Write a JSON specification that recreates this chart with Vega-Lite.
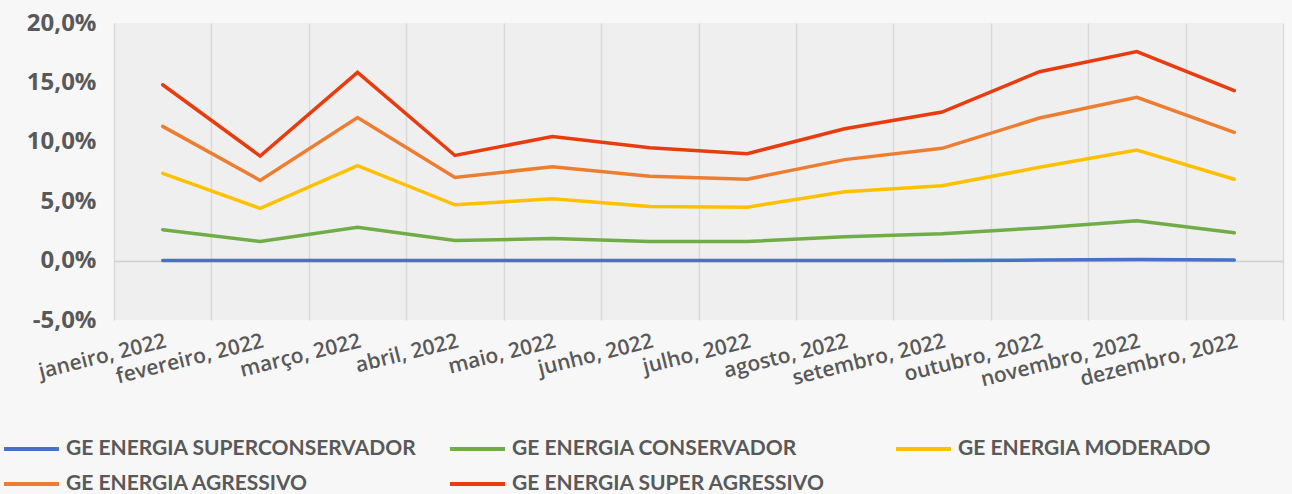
{
  "$schema": "https://vega.github.io/schema/vega-lite/v6.json",
  "width": 1169,
  "height": 297,
  "autosize": {"type": "none"},
  "padding": {"left": 114, "top": 23, "right": 9, "bottom": 174},
  "background": "#f7f7f7",
  "data": {
    "values": [
      {"month": "janeiro, 2022", "series": "GE ENERGIA SUPERCONSERVADOR", "value": 0.0},
      {"month": "fevereiro, 2022", "series": "GE ENERGIA SUPERCONSERVADOR", "value": 0.0},
      {"month": "março, 2022", "series": "GE ENERGIA SUPERCONSERVADOR", "value": 0.0},
      {"month": "abril, 2022", "series": "GE ENERGIA SUPERCONSERVADOR", "value": 0.0},
      {"month": "maio, 2022", "series": "GE ENERGIA SUPERCONSERVADOR", "value": 0.0},
      {"month": "junho, 2022", "series": "GE ENERGIA SUPERCONSERVADOR", "value": 0.0},
      {"month": "julho, 2022", "series": "GE ENERGIA SUPERCONSERVADOR", "value": 0.0},
      {"month": "agosto, 2022", "series": "GE ENERGIA SUPERCONSERVADOR", "value": 0.0},
      {"month": "setembro, 2022", "series": "GE ENERGIA SUPERCONSERVADOR", "value": 0.0},
      {"month": "outubro, 2022", "series": "GE ENERGIA SUPERCONSERVADOR", "value": 0.0005},
      {"month": "novembro, 2022", "series": "GE ENERGIA SUPERCONSERVADOR", "value": 0.001},
      {"month": "dezembro, 2022", "series": "GE ENERGIA SUPERCONSERVADOR", "value": 0.0005},

      {"month": "janeiro, 2022", "series": "GE ENERGIA CONSERVADOR", "value": 0.026},
      {"month": "fevereiro, 2022", "series": "GE ENERGIA CONSERVADOR", "value": 0.016},
      {"month": "março, 2022", "series": "GE ENERGIA CONSERVADOR", "value": 0.028},
      {"month": "abril, 2022", "series": "GE ENERGIA CONSERVADOR", "value": 0.017},
      {"month": "maio, 2022", "series": "GE ENERGIA CONSERVADOR", "value": 0.0185},
      {"month": "junho, 2022", "series": "GE ENERGIA CONSERVADOR", "value": 0.016},
      {"month": "julho, 2022", "series": "GE ENERGIA CONSERVADOR", "value": 0.016},
      {"month": "agosto, 2022", "series": "GE ENERGIA CONSERVADOR", "value": 0.02},
      {"month": "setembro, 2022", "series": "GE ENERGIA CONSERVADOR", "value": 0.0225},
      {"month": "outubro, 2022", "series": "GE ENERGIA CONSERVADOR", "value": 0.0275},
      {"month": "novembro, 2022", "series": "GE ENERGIA CONSERVADOR", "value": 0.0335},
      {"month": "dezembro, 2022", "series": "GE ENERGIA CONSERVADOR", "value": 0.0235},

      {"month": "janeiro, 2022", "series": "GE ENERGIA MODERADO", "value": 0.0735},
      {"month": "fevereiro, 2022", "series": "GE ENERGIA MODERADO", "value": 0.044},
      {"month": "março, 2022", "series": "GE ENERGIA MODERADO", "value": 0.08},
      {"month": "abril, 2022", "series": "GE ENERGIA MODERADO", "value": 0.047},
      {"month": "maio, 2022", "series": "GE ENERGIA MODERADO", "value": 0.052},
      {"month": "junho, 2022", "series": "GE ENERGIA MODERADO", "value": 0.0455},
      {"month": "julho, 2022", "series": "GE ENERGIA MODERADO", "value": 0.045},
      {"month": "agosto, 2022", "series": "GE ENERGIA MODERADO", "value": 0.058},
      {"month": "setembro, 2022", "series": "GE ENERGIA MODERADO", "value": 0.063},
      {"month": "outubro, 2022", "series": "GE ENERGIA MODERADO", "value": 0.0785},
      {"month": "novembro, 2022", "series": "GE ENERGIA MODERADO", "value": 0.093},
      {"month": "dezembro, 2022", "series": "GE ENERGIA MODERADO", "value": 0.0685},

      {"month": "janeiro, 2022", "series": "GE ENERGIA AGRESSIVO", "value": 0.113},
      {"month": "fevereiro, 2022", "series": "GE ENERGIA AGRESSIVO", "value": 0.0675},
      {"month": "março, 2022", "series": "GE ENERGIA AGRESSIVO", "value": 0.1205},
      {"month": "abril, 2022", "series": "GE ENERGIA AGRESSIVO", "value": 0.07},
      {"month": "maio, 2022", "series": "GE ENERGIA AGRESSIVO", "value": 0.079},
      {"month": "junho, 2022", "series": "GE ENERGIA AGRESSIVO", "value": 0.071},
      {"month": "julho, 2022", "series": "GE ENERGIA AGRESSIVO", "value": 0.0685},
      {"month": "agosto, 2022", "series": "GE ENERGIA AGRESSIVO", "value": 0.085},
      {"month": "setembro, 2022", "series": "GE ENERGIA AGRESSIVO", "value": 0.0945},
      {"month": "outubro, 2022", "series": "GE ENERGIA AGRESSIVO", "value": 0.12},
      {"month": "novembro, 2022", "series": "GE ENERGIA AGRESSIVO", "value": 0.1375},
      {"month": "dezembro, 2022", "series": "GE ENERGIA AGRESSIVO", "value": 0.108},

      {"month": "janeiro, 2022", "series": "GE ENERGIA SUPER AGRESSIVO", "value": 0.148},
      {"month": "fevereiro, 2022", "series": "GE ENERGIA SUPER AGRESSIVO", "value": 0.088},
      {"month": "março, 2022", "series": "GE ENERGIA SUPER AGRESSIVO", "value": 0.1585},
      {"month": "abril, 2022", "series": "GE ENERGIA SUPER AGRESSIVO", "value": 0.0885},
      {"month": "maio, 2022", "series": "GE ENERGIA SUPER AGRESSIVO", "value": 0.1045},
      {"month": "junho, 2022", "series": "GE ENERGIA SUPER AGRESSIVO", "value": 0.095},
      {"month": "julho, 2022", "series": "GE ENERGIA SUPER AGRESSIVO", "value": 0.09},
      {"month": "agosto, 2022", "series": "GE ENERGIA SUPER AGRESSIVO", "value": 0.111},
      {"month": "setembro, 2022", "series": "GE ENERGIA SUPER AGRESSIVO", "value": 0.125},
      {"month": "outubro, 2022", "series": "GE ENERGIA SUPER AGRESSIVO", "value": 0.159},
      {"month": "novembro, 2022", "series": "GE ENERGIA SUPER AGRESSIVO", "value": 0.176},
      {"month": "dezembro, 2022", "series": "GE ENERGIA SUPER AGRESSIVO", "value": 0.143}
    ]
  },
  "mark": {"type": "line", "strokeWidth": 3.5, "strokeCap": "round", "strokeJoin": "miter"},
  "encoding": {
    "x": {
      "field": "month",
      "type": "nominal",
      "title": null,
      "scale": {
        "type": "band",
        "paddingInner": 0,
        "paddingOuter": 0,
        "domain": ["janeiro, 2022", "fevereiro, 2022", "março, 2022", "abril, 2022", "maio, 2022", "junho, 2022", "julho, 2022", "agosto, 2022", "setembro, 2022", "outubro, 2022", "novembro, 2022", "dezembro, 2022"]
      },
      "axis": {
        "labelAngle": -14,
        "labelAlign": "right",
        "labelBaseline": "top",
        "labelFont": "Open Sans",
        "labelFontWeight": 600,
        "labelFontSize": 21,
        "labelColor": "#595959",
        "labelPadding": 10,
        "labelOverlap": false,
        "ticks": false,
        "domain": false,
        "grid": true,
        "tickBand": "extent",
        "gridColor": "#d9d9d9",
        "gridWidth": 1.5
      }
    },
    "y": {
      "field": "value",
      "type": "quantitative",
      "title": null,
      "scale": {"domain": [-0.05, 0.2], "nice": false},
      "axis": {
        "values": [-0.05, 0, 0.05, 0.1, 0.15, 0.2],
        "labelExpr": "replace(replace(format(datum.value, '.1%'), '.', ','), '−', '-')",
        "labelFont": "Open Sans",
        "labelFontWeight": "bold",
        "labelFontSize": 24,
        "labelColor": "#595959",
        "labelPadding": 18,
        "ticks": false,
        "domain": false,
        "grid": true,
        "gridColor": {"condition": {"test": "datum.value === 0", "value": "#d0d0d0"}, "value": "transparent"},
        "gridWidth": 1.5
      }
    },
    "color": {
      "field": "series",
      "type": "nominal",
      "title": null,
      "scale": {
        "domain": ["GE ENERGIA SUPERCONSERVADOR", "GE ENERGIA CONSERVADOR", "GE ENERGIA MODERADO", "GE ENERGIA AGRESSIVO", "GE ENERGIA SUPER AGRESSIVO"],
        "range": ["#4472C4", "#70AD47", "#FFC000", "#ED7D31", "#E83C0E"]
      },
      "legend": {
        "orient": "none",
        "legendX": -112,
        "legendY": 413,
        "direction": "horizontal",
        "columns": 3,
        "gridAlign": "all",
        "columnPadding": 25,
        "rowPadding": 12,
        "symbolType": "M-1,0H4",
        "symbolSize": 484,
        "symbolStrokeWidth": 4,
        "labelFont": "Lato",
        "labelFontWeight": "bold",
        "labelFontSize": 21,
        "labelColor": "#595959",
        "labelOffset": 38,
        "labelLimit": 600
      }
    }
  },
  "config": {
    "view": {"fill": "#efefef", "stroke": null}
  }
}
